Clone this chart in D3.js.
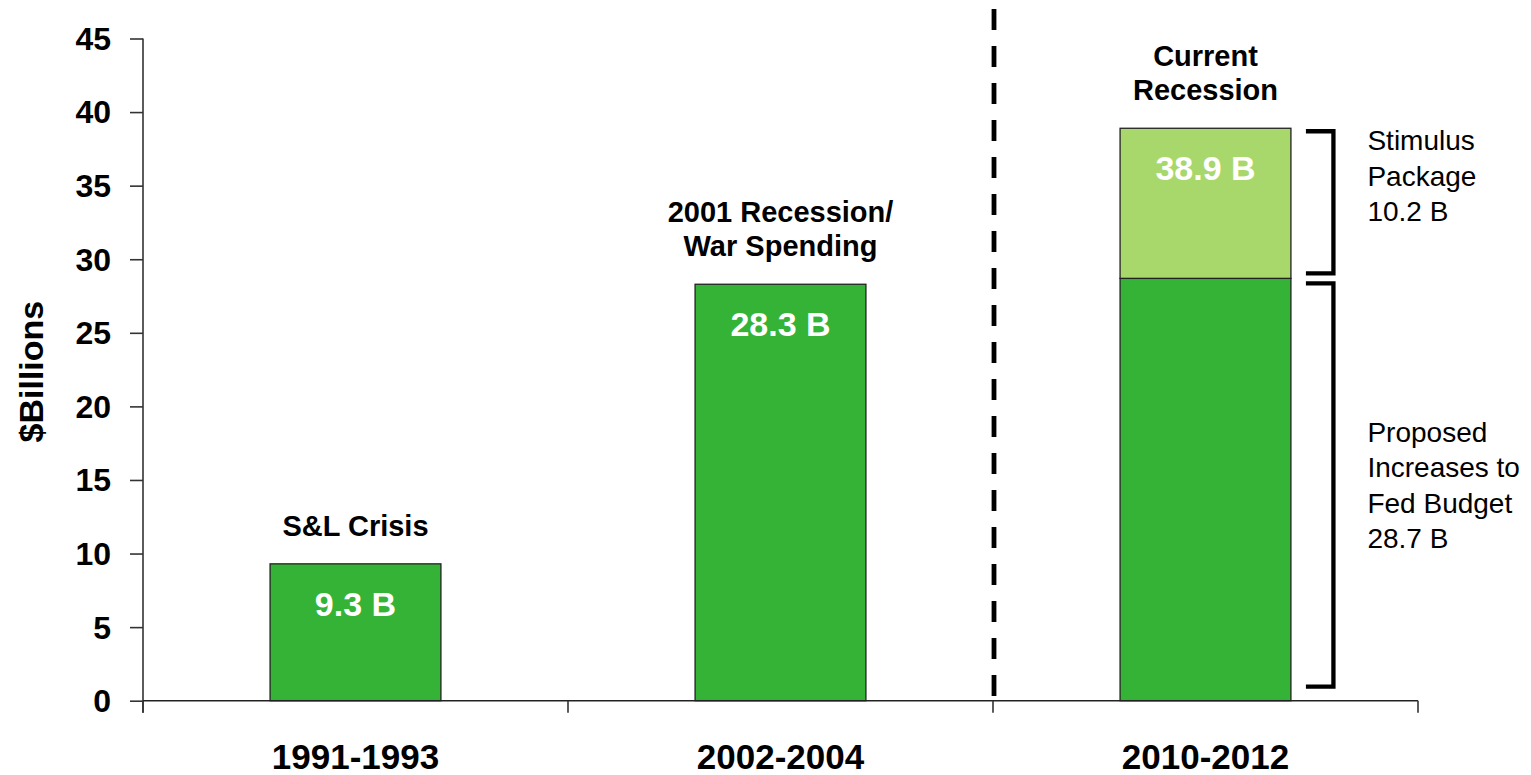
<!DOCTYPE html>
<html>
<head>
<meta charset="utf-8">
<script src="https://cdn.jsdelivr.net/npm/d3@7/dist/d3.min.js"></script>
<style>
  html, body { margin: 0; padding: 0; background: #fff; }
  svg { display: block; font-family: "Liberation Sans", Arial, Helvetica, sans-serif; }
</style>
</head>
<body>
<svg id="chart" width="1531" height="775"></svg>
<script>
// Spending periods and their totals ($ billions)
const categories = ["1991-1993", "2002-2004", "2010-2012"];
const baseValues = [9.3, 28.3, 28.7];        // budget increases
const stimulusValues = [0, 0, 10.2];         // stimulus package
const totalLabels = ["9.3 B", "28.3 B", "38.9 B"];
const eventLabels = [["S&L Crisis"], ["2001 Recession/", "War Spending"], ["Current", "Recession"]];
const yTicks = [0, 5, 10, 15, 20, 25, 30, 35, 40, 45];
const yTitle = "$Billions";
const stimulusNote = ["Stimulus", "Package", "10.2 B"];
const proposedNote = ["Proposed", "Increases to", "Fed Budget", "28.7 B"];

const colors = { base: "#35b336", stimulus: "#a8d86b" };

const svg = d3.select("#chart");
const plotLeft = 143, plotRight = 1418, plotTop = 38.5, plotBottom = 700.7;

const y = d3.scaleLinear().domain([0, 45]).range([plotBottom, plotTop]);
const x = d3.scaleBand().domain(categories).range([plotLeft, plotRight]).padding(0);
const barW = x.bandwidth() * 0.402;
const barX = c => x(c) + (x.bandwidth() - barW) / 2;

const rows = categories.map((c, i) => ({ cat: c, base: baseValues[i], stimulus: stimulusValues[i] }));
const stack = d3.stack().keys(["base", "stimulus"]);
const series = stack(rows);

// Bars (stacked)
svg.append("g").selectAll("g")
  .data(series)
  .join("g")
  .attr("fill", s => colors[s.key])
  .selectAll("rect")
  .data(s => s.filter(d => d[1] - d[0] > 0))
  .join("rect")
  .attr("x", d => barX(d.data.cat))
  .attr("width", barW)
  .attr("y", d => y(d[1]))
  .attr("height", d => y(d[0]) - y(d[1]))
  .attr("stroke", "#222")
  .attr("stroke-width", 1.3);

// Y axis
const yAxis = d3.axisLeft(y).tickValues(yTicks).tickSize(13).tickPadding(19);
const gy = svg.append("g").attr("transform", `translate(${plotLeft},0)`).call(yAxis);
gy.select(".domain").remove();
gy.selectAll(".tick line").attr("stroke", "#333").attr("stroke-width", 1.6);
gy.selectAll(".tick text")
  .attr("font-size", 32).attr("font-weight", "bold").attr("fill", "#000")
  .attr("font-family", "'Liberation Sans', Arial, sans-serif")
  .attr("dy", "0.34em");
svg.append("line")
  .attr("x1", plotLeft).attr("x2", plotLeft)
  .attr("y1", y(45)).attr("y2", y(0) + 12)
  .attr("stroke", "#333").attr("stroke-width", 1.6);

// X axis
svg.append("line")
  .attr("x1", plotLeft).attr("x2", plotRight)
  .attr("y1", y(0)).attr("y2", y(0))
  .attr("stroke", "#222").attr("stroke-width", 1.6);
const bounds = categories.map(c => x(c)).concat([x(categories[categories.length - 1]) + x.bandwidth()]);
svg.append("g").selectAll("line")
  .data(bounds)
  .join("line")
  .attr("x1", d => d).attr("x2", d => d)
  .attr("y1", y(0)).attr("y2", y(0) + 12)
  .attr("stroke", "#333").attr("stroke-width", 1.6);
const xAxis = d3.axisBottom(x).tickSize(0).tickPadding(0);
const gx = svg.append("g").attr("transform", `translate(0,${y(0)})`).call(xAxis);
gx.select(".domain").remove();
gx.selectAll(".tick text")
  .attr("font-size", 35).attr("font-weight", "bold").attr("fill", "#000")
  .attr("font-family", "'Liberation Sans', Arial, sans-serif")
  .attr("y", 68).attr("dy", 0);

// Y axis title
svg.append("text")
  .attr("transform", `translate(43,${(plotTop + plotBottom) / 2 + 2}) rotate(-90)`)
  .attr("text-anchor", "middle")
  .attr("font-size", 34).attr("font-weight", "bold")
  .text(yTitle);

// Divider between past periods and the current one
svg.append("line")
  .attr("x1", x(categories[2]) + 1).attr("x2", x(categories[2]) + 1)
  .attr("y1", 9).attr("y2", y(0))
  .attr("stroke", "#000").attr("stroke-width", 4.8)
  .attr("stroke-dasharray", "21 16");

// Totals inside the bars and event labels above them
rows.forEach((r, i) => {
  const total = r.base + r.stimulus;
  const cx = x(r.cat) + x.bandwidth() / 2;
  svg.append("text")
    .attr("x", cx).attr("y", y(total) + 52)
    .attr("text-anchor", "middle")
    .attr("font-size", 34).attr("font-weight", "bold").attr("fill", "#fff")
    .text(totalLabels[i]);

  const lines = eventLabels[i];
  const lh = 34;
  const lastBase = y(total) - 28;
  const t = svg.append("text")
    .attr("text-anchor", "middle")
    .attr("font-size", 29).attr("font-weight", "bold").attr("fill", "#000");
  lines.forEach((ln, k) => {
    t.append("tspan")
      .attr("x", cx)
      .attr("y", lastBase - (lines.length - 1 - k) * lh)
      .text(ln);
  });
});

// Brackets next to the stacked bar
const last = rows[2];
const bx0 = barX(last.cat) + barW + 15;
const bx1 = bx0 + 27.5;
const brackets = [
  { y0: y(last.base + last.stimulus) + 3, y1: y(last.base) - 5 },
  { y0: y(last.base) + 5, y1: y(0) - 14 }
];
svg.append("g").selectAll("path")
  .data(brackets)
  .join("path")
  .attr("d", b => `M${bx0},${b.y0}H${bx1}V${b.y1}H${bx0}`)
  .attr("fill", "none").attr("stroke", "#000")
  .attr("stroke-width", 4.3).attr("stroke-linejoin", "miter");

function note(lines, firstBaseline) {
  const t = svg.append("text")
    .attr("font-size", 28).attr("fill", "#000");
  lines.forEach((ln, k) => {
    t.append("tspan").attr("x", bx1 + 34).attr("y", firstBaseline + k * 35.3).text(ln);
  });
}
note(stimulusNote, brackets[0].y0 + 19);
const mid = (brackets[1].y0 + brackets[1].y1) / 2;
note(proposedNote, mid - 1.5 * 35.3 + 10);
</script>
</body>
</html>
